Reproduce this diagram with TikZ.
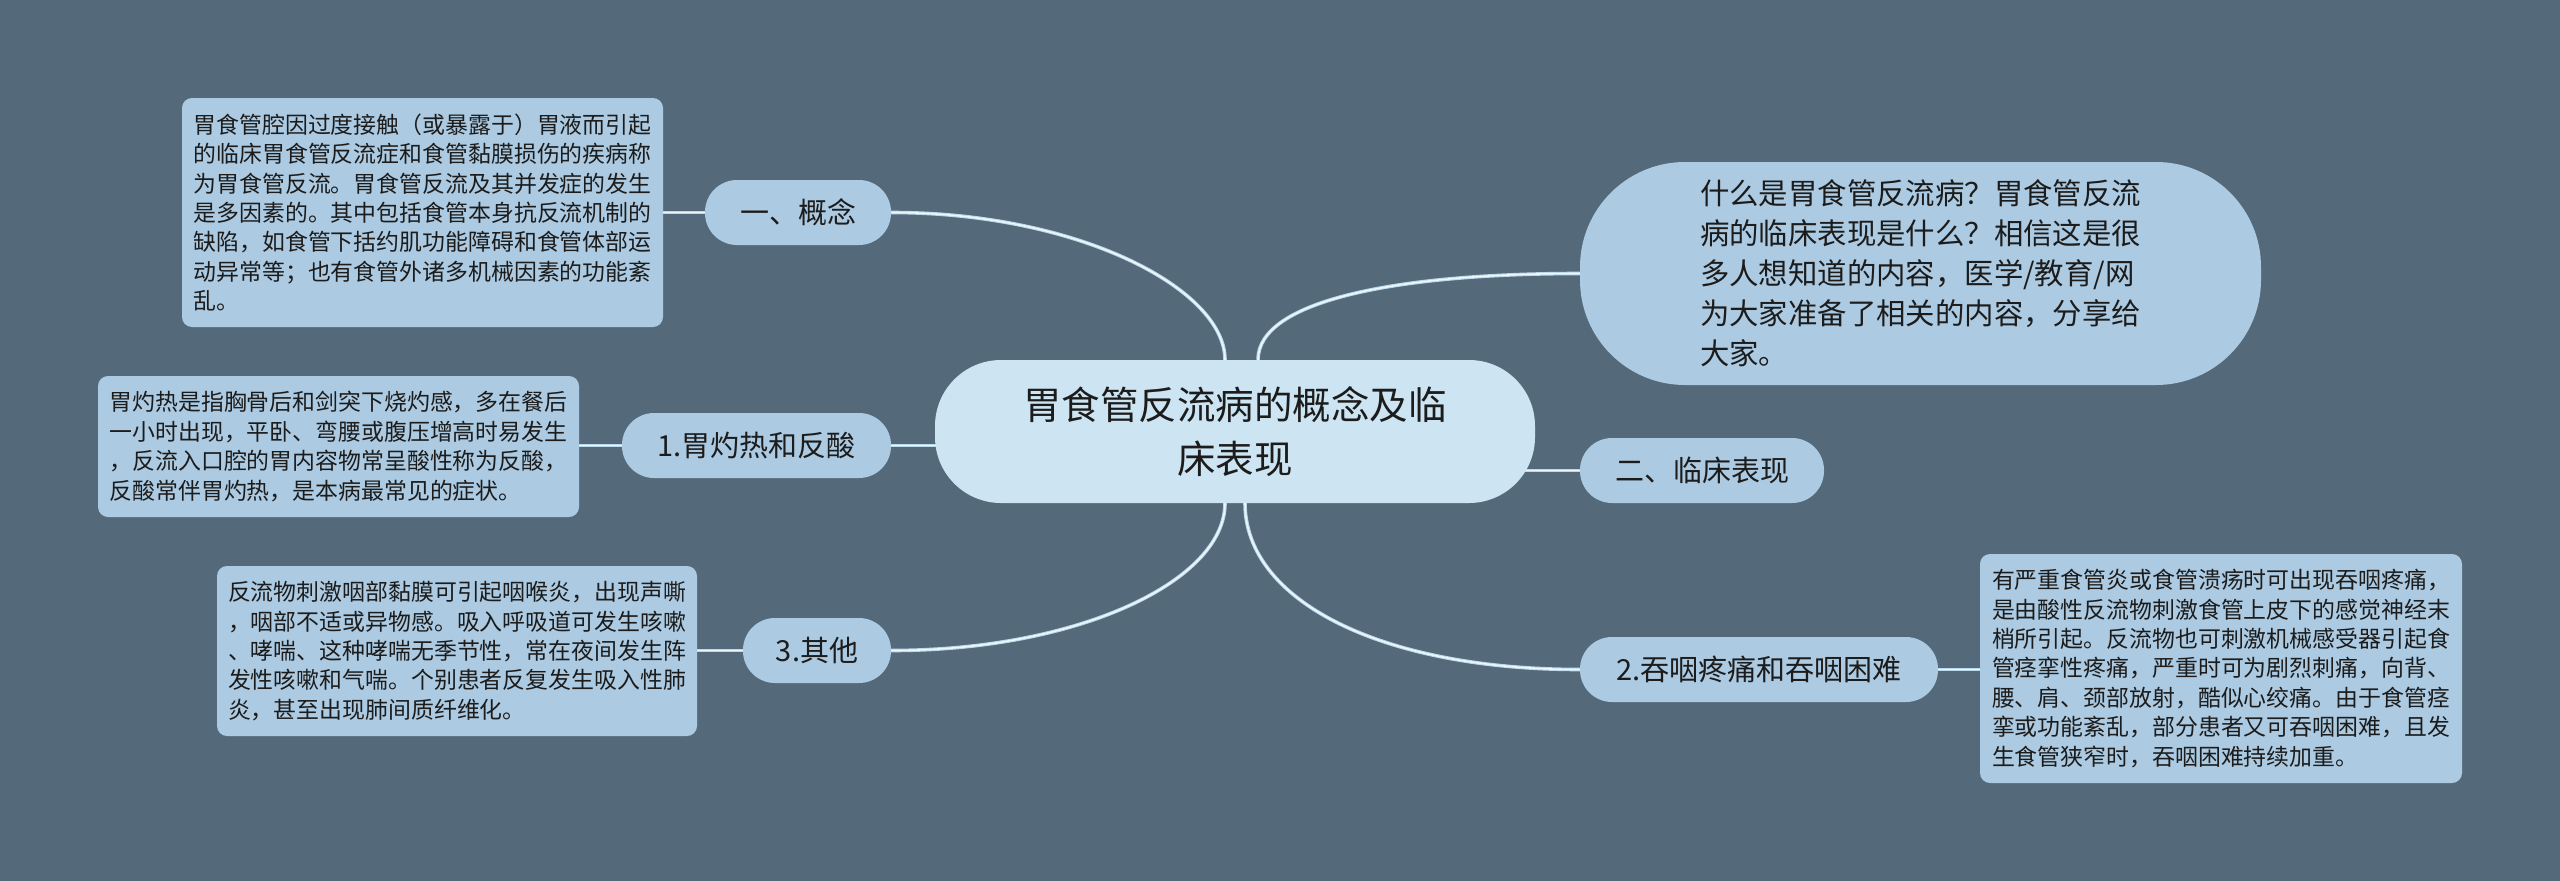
\documentclass[tikz,border=0pt]{standalone}
\usepackage{fontspec}
\setmainfont{Noto Sans CJK SC}
\usetikzlibrary{backgrounds,calc}
\definecolor{bgc}{RGB}{84,106,122}
\definecolor{nodefill}{RGB}{172,202,225}
\definecolor{rootfill}{RGB}{205,229,242}
\definecolor{lineedge}{RGB}{186,216,234}
\definecolor{linecore}{RGB}{236,246,251}
\definecolor{txt}{RGB}{28,28,28}
\begin{document}
\begin{tikzpicture}[x=1pt,y=-1pt,
  detail/.style={fill=nodefill, rounded corners=10pt, inner sep=0pt, align=left, text=txt,
    font=\fontsize{22.9}{29.4}\selectfont},
  topic/.style={fill=nodefill, rounded corners=32pt, minimum height=65pt, inner sep=0pt, text=txt,
    font=\fontsize{29}{35}\selectfont},
  rootnode/.style={fill=rootfill, rounded corners=66pt, minimum width=600pt, minimum height=143pt,
    inner sep=0pt, align=center, text=txt, font=\fontsize{38.5}{54}\selectfont},
  intro/.style={fill=nodefill, rounded corners=105pt, minimum width=681pt, minimum height=223pt,
    inner sep=0pt, align=left, text=txt, font=\fontsize{29.4}{40}\selectfont},
  conn/.style={draw=lineedge, double=linecore, double distance=1.6pt, line width=1pt}
]
\useasboundingbox (0,0) rectangle (2560,881);

% root
\node[rootnode] (root) at (1235,431.5) {胃食管反流病的概念及临\\床表现};

% intro
\node[intro] (intro) at (1920.5,273.5) {什么是胃食管反流病？胃食管反流\\病的临床表现是什么？相信这是很\\多人想知道的内容，医学/教育/网\\为大家准备了相关的内容，分享给\\大家。};

% topics
\node[topic, minimum width=186pt] (c1) at (798,212.5) {一、概念};
\node[topic, minimum width=269pt] (n1) at (756.5,445.5) {1.胃灼热和反酸};
\node[topic, minimum width=148pt] (n3) at (817,650.5) {3.其他};
\node[topic, minimum width=244pt] (n2) at (1702,470.5) {二、临床表现};
\node[topic, minimum width=358pt] (n4) at (1759,669.5) {2.吞咽疼痛和吞咽困难};

% details
\node[detail, minimum width=481pt, minimum height=229pt] (d1) at (422.5,212.5)
 {胃食管腔因过度接触（或暴露于）胃液而引起\\的临床胃食管反流症和食管黏膜损伤的疾病称\\为胃食管反流。胃食管反流及其并发症的发生\\是多因素的。其中包括食管本身抗反流机制的\\缺陷，如食管下括约肌功能障碍和食管体部运\\动异常等；也有食管外诸多机械因素的功能紊\\乱。};
\node[detail, minimum width=481pt, minimum height=141pt] (d2) at (338.5,446.5)
 {胃灼热是指胸骨后和剑突下烧灼感，多在餐后\\一小时出现，平卧、弯腰或腹压增高时易发生\\，反流入口腔的胃内容物常呈酸性称为反酸，\\反酸常伴胃灼热，是本病最常见的症状。};
\node[detail, minimum width=480pt, minimum height=170pt] (d3) at (457,651)
 {反流物刺激咽部黏膜可引起咽喉炎，出现声嘶\\，咽部不适或异物感。吸入呼吸道可发生咳嗽\\、哮喘、这种哮喘无季节性，常在夜间发生阵\\发性咳嗽和气喘。个别患者反复发生吸入性肺\\炎，甚至出现肺间质纤维化。};
\node[detail, minimum width=482pt, minimum height=229pt] (d4) at (2221,668.5)
 {有严重食管炎或食管溃疡时可出现吞咽疼痛，\\是由酸性反流物刺激食管上皮下的感觉神经末\\梢所引起。反流物也可刺激机械感受器引起食\\管痉挛性疼痛，严重时可为剧烈刺痛，向背、\\腰、肩、颈部放射，酷似心绞痛。由于食管痉\\挛或功能紊乱，部分患者又可吞咽困难，且发\\生食管狭窄时，吞咽困难持续加重。};

\begin{pgfonlayer}{background}
\fill[bgc] (0,0) rectangle (2560,881);
% root to topics
\draw[conn] (c1.east) .. controls ($(c1.east)+(189,0)$) and ($(root.north)+(-10,-70)$) .. ($(root.north)+(-10,0)$);
\draw[conn] ($(root.north)+(23,0)$) .. controls ($(root.north)+(23,-60)$) and ($(intro.west)+(-180,0)$) .. (intro.west);
\draw[conn] ($(root.south)+(-10,0)$) .. controls ($(root.south)+(-10,77)$) and ($(n3.east)+(189,0)$) .. (n3.east);
\draw[conn] ($(root.south)+(10,0)$) .. controls ($(root.south)+(10,97)$) and ($(n4.west)+(-200,0)$) .. (n4.west);
\draw[conn] (n1.east) -- (n1.east -| root.center);
\draw[conn] (n2.west) -- (n2.west -| root.center);
% topics to details
\draw[conn] (c1.west) -- (c1.west -| d1.center);
\draw[conn] (n1.west) -- (n1.west -| d2.center);
\draw[conn] (n3.west) -- (n3.west -| d3.center);
\draw[conn] (n4.east) -- (n4.east -| d4.center);
\end{pgfonlayer}
\end{tikzpicture}
\end{document}
